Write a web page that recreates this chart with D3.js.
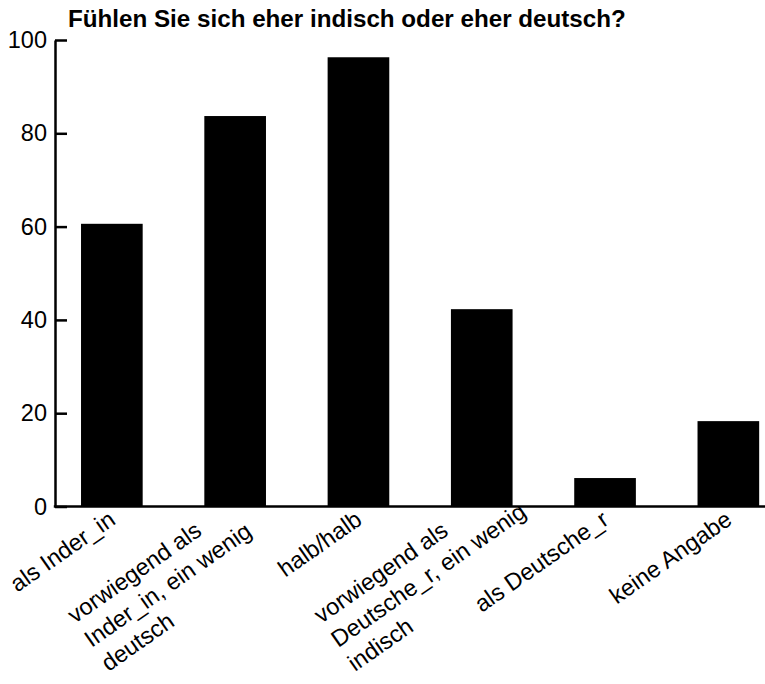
<!DOCTYPE html>
<html>
<head>
<meta charset="utf-8">
<script src="https://cdn.jsdelivr.net/npm/d3@7"></script>
<style>
  body { margin: 0; background: #fff; }
  text { font-family: "Liberation Sans", Arial, Helvetica, sans-serif; fill: #000; }
</style>
</head>
<body>
<svg width="765" height="684"></svg>
<script>
var title = "Fühlen Sie sich eher indisch oder eher deutsch?";
var categories = [
  "als Inder_in",
  "vorwiegend als\nInder_in, ein wenig\ndeutsch",
  "halb/halb",
  "vorwiegend als\nDeutsche_r, ein wenig\nindisch",
  "als Deutsche_r",
  "keine Angabe"
];
var values = [60.6, 83.7, 96.3, 42.3, 6.1, 18.3];
var yTicks = [0, 20, 40, 60, 80, 100];

var svg = d3.select("svg");
var fontSize = 23.5;
var axisX = 55;

var y = d3.scaleLinear().domain([0, 100]).range([506.5, 40]);
var x = d3.scaleBand().domain(categories).range([50.2, 790])
  .paddingInner(0.5).paddingOuter(0.25);

// bars
svg.append("g").selectAll("rect")
  .data(values)
  .join("rect")
  .attr("x", function(d, i) { return x(categories[i]); })
  .attr("y", function(d) { return y(d); })
  .attr("width", x.bandwidth())
  .attr("height", function(d) { return y(0) - y(d); })
  .attr("fill", "#000");

// y axis, ticks point inwards
var yAxis = svg.append("g")
  .attr("transform", "translate(" + axisX + ",0)")
  .call(d3.axisLeft(y).tickValues(yTicks).tickSizeInner(-12).tickSizeOuter(0).tickPadding(8));
yAxis.select(".domain").attr("stroke-width", 2.5);
yAxis.selectAll(".tick line").attr("stroke-width", 2.5);
yAxis.selectAll(".tick text")
  .style("font-size", fontSize + "px")
  .attr("fill", "#000");

// baseline
svg.append("line")
  .attr("x1", axisX - 1.2).attr("x2", 765)
  .attr("y1", y(0)).attr("y2", y(0))
  .attr("stroke", "#000").attr("stroke-width", 2.5);

// title
svg.append("text")
  .attr("x", 68).attr("y", 26.5)
  .style("font-size", "24.2px")
  .style("font-weight", "bold")
  .text(title);

// rotated category labels, lines left aligned
var angle = -35, lineStep = 29.4;
svg.append("g").selectAll("g")
  .data(categories)
  .join("g")
  .attr("transform", function(d) {
    var n = d.split("\n").length;
    var cx = x(d) + x.bandwidth() / 2 + 5 - 18.5 * (n - 1);
    var cy = y(0) + 16.5 + 5.5 * (n - 1);
    return "translate(" + cx + "," + cy + ") rotate(" + angle + ")";
  })
  .each(function(d) {
    var g = d3.select(this);
    var lines = d.split("\n");
    var first = g.append("text")
      .attr("text-anchor", "end")
      .style("font-size", fontSize + "px")
      .text(lines[0]);
    var w = first.node().getComputedTextLength();
    lines.slice(1).forEach(function(t, k) {
      g.append("text")
        .attr("x", -w)
        .attr("y", (k + 1) * lineStep)
        .style("font-size", fontSize + "px")
        .text(t);
    });
  });
</script>
</body>
</html>
